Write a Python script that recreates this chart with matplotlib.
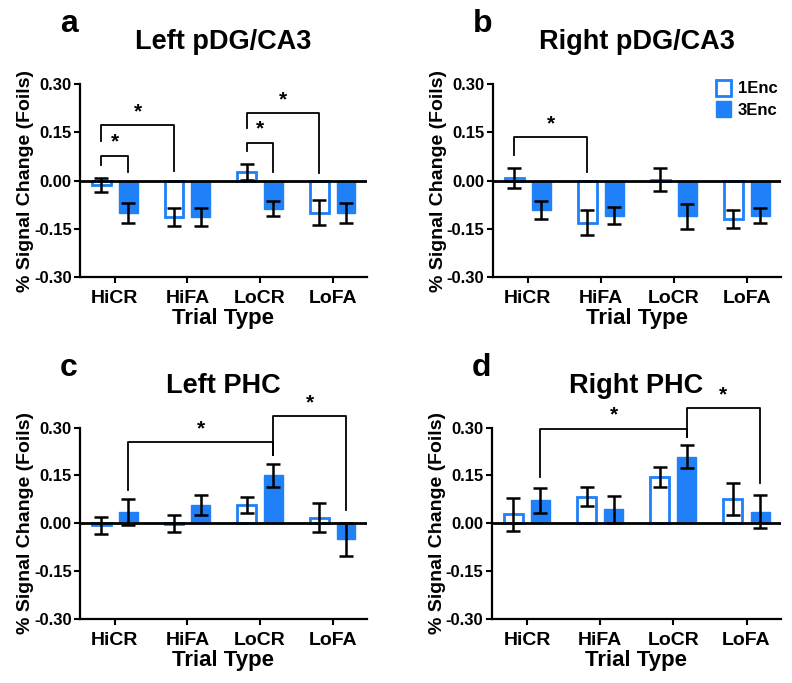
import matplotlib.pyplot as plt
import numpy as np

plt.rcParams['font.family'] = ['Liberation Sans', 'DejaVu Sans']
plt.rcParams['font.weight'] = 'bold'
plt.rcParams['axes.unicode_minus'] = False

trial_types = ['HiCR', 'HiFA', 'LoCR', 'LoFA']
conditions = ['1Enc', '3Enc']
yticks = [-0.30, -0.15, 0.00, 0.15, 0.30]

# a - Left pDG/CA3
a_1enc = [-0.013, -0.113, 0.027, -0.100]
a_1enc_err = [0.022, 0.029, 0.026, 0.039]
a_3enc = [-0.100, -0.113, -0.087, -0.100]
a_3enc_err = [0.031, 0.029, 0.024, 0.030]
# brackets: (cat, cond) left, (cat, cond) right, top, left leg end, right leg end
a_sig = [((0, 0), (0, 1), 0.078, 0.050, 0.026),
         ((0, 0), (1, 0), 0.173, 0.122, 0.029),
         ((2, 0), (2, 1), 0.118, 0.091, 0.027),
         ((2, 0), (3, 0), 0.209, 0.163, 0.024)]

# b - Right pDG/CA3
b_1enc = [0.007, -0.131, 0.003, -0.118]
b_1enc_err = [0.031, 0.039, 0.035, 0.028]
b_3enc = [-0.092, -0.109, -0.110, -0.109]
b_3enc_err = [0.028, 0.027, 0.039, 0.023]
b_sig = [((0, 0), (1, 0), 0.134, 0.081, 0.026)]

# c - Left PHC
c_1enc = [-0.006, -0.001, 0.058, 0.018]
c_1enc_err = [0.026, 0.026, 0.026, 0.045]
c_3enc = [0.035, 0.057, 0.151, -0.050]
c_3enc_err = [0.041, 0.032, 0.036, 0.052]
c_sig = [((0, 1), (2, 1), 0.254, 0.106, 0.215),
         ((2, 1), (3, 1), 0.337, 0.215, 0.041)]

# d - Right PHC
d_1enc = [0.028, 0.083, 0.145, 0.075]
d_1enc_err = [0.051, 0.030, 0.031, 0.050]
d_3enc = [0.072, 0.044, 0.209, 0.037]
d_3enc_err = [0.039, 0.042, 0.037, 0.052]
d_sig = [((0, 1), (2, 1), 0.297, 0.146, 0.269),
         ((2, 1), (3, 1), 0.362, 0.269, 0.128)]

blue = '#1f80f8'
width = 0.26
offset = 0.185
x = np.arange(len(trial_types))


def bar_x(cat, cond):
    return cat + (offset if cond == 1 else -offset)


def draw_panel(ax, m1, e1, m3, e3, sig, title, letter, legend=False):
    ax.bar(x - offset, m1, width, color='white', edgecolor=blue, linewidth=2,
           label=conditions[0], zorder=2)
    ax.bar(x + offset, m3, width, color=blue, edgecolor=blue, linewidth=1,
           label=conditions[1], zorder=2)
    ax.errorbar(x - offset, m1, yerr=e1, fmt='none', ecolor='black',
                elinewidth=1.8, capsize=5, capthick=1.8, zorder=4)
    ax.errorbar(x + offset, m3, yerr=e3, fmt='none', ecolor='black',
                elinewidth=1.8, capsize=5, capthick=1.8, zorder=4)
    ax.axhline(0, color='black', lw=2, zorder=3)

    for (c1, k1), (c2, k2), top, y1, y2 in sig:
        xa, xb = bar_x(c1, k1), bar_x(c2, k2)
        ax.plot([xa, xa, xb, xb], [y1, top, top, y2], color='black', lw=1.3,
                clip_on=False, zorder=5)
        ax.text((xa + xb) / 2, top + 0.012, '*', ha='center', va='bottom',
                fontsize=15, fontweight='bold')

    ax.set_xlim(-0.48, 3.47)
    ax.set_ylim(-0.30, 0.30)
    ax.set_yticks(yticks)
    ax.set_yticklabels(['%.2f' % v for v in yticks], fontsize=12, fontweight='bold')
    ax.set_xticks(x)
    ax.set_xticklabels(trial_types, fontsize=14, fontweight='bold')
    ax.set_xlabel('Trial Type', fontsize=16, fontweight='bold', labelpad=1)
    ax.set_ylabel('% Signal Change (Foils)', fontsize=14, fontweight='bold', labelpad=0)
    ax.set_title(title, fontsize=19.5, fontweight='bold', pad=25)
    for s in ['top', 'right']:
        ax.spines[s].set_visible(False)
    for s in ['left', 'bottom']:
        ax.spines[s].set_linewidth(1.6)
    ax.tick_params(width=1.5, length=4, pad=2)
    ax.tick_params(axis='x', pad=5)
    ax.text(-0.07, 1.27, letter, transform=ax.transAxes, fontsize=23,
            fontweight='bold', ha='left', va='baseline')
    if legend:
        ax.legend(loc='upper right', bbox_to_anchor=(1.04, 1.10), frameon=False,
                  fontsize=12, handlelength=0.9, handleheight=1.1, handletextpad=0.4,
                  labelspacing=0.3)


fig = plt.figure(figsize=(7.92, 6.83), dpi=100)
ax_a = fig.add_axes([0.101, 0.594, 0.362, 0.283])
ax_b = fig.add_axes([0.622, 0.594, 0.364, 0.283])
ax_c = fig.add_axes([0.101, 0.0933, 0.362, 0.2807])
ax_d = fig.add_axes([0.621, 0.0933, 0.365, 0.2807])

draw_panel(ax_a, a_1enc, a_1enc_err, a_3enc, a_3enc_err, a_sig, 'Left pDG/CA3', 'a')
draw_panel(ax_b, b_1enc, b_1enc_err, b_3enc, b_3enc_err, b_sig, 'Right pDG/CA3', 'b', legend=True)
draw_panel(ax_c, c_1enc, c_1enc_err, c_3enc, c_3enc_err, c_sig, 'Left PHC', 'c')
draw_panel(ax_d, d_1enc, d_1enc_err, d_3enc, d_3enc_err, d_sig, 'Right PHC', 'd')

fig.savefig('out.png', dpi=100)
